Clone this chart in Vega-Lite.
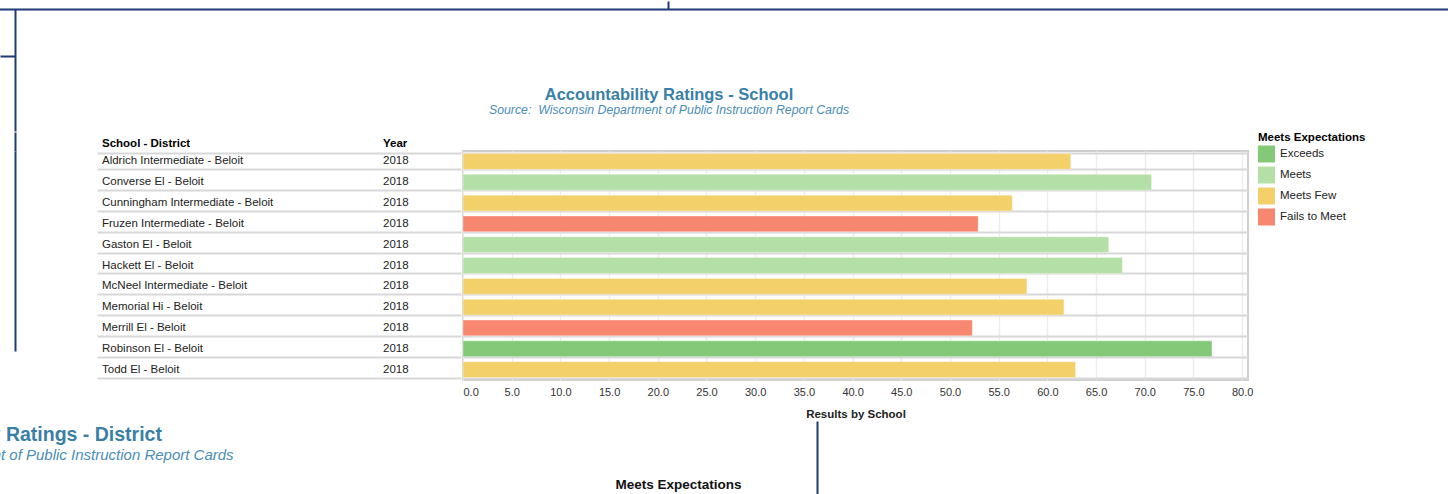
{
  "$schema": "https://vega.github.io/schema/vega-lite/v6.json",
  "background": "white",
  "padding": {"left": -206, "top": 0, "right": 10, "bottom": 0},
  "spacing": 0,
  "vconcat": [
    {
      "width": 1460,
      "height": 122,
      "view": {"stroke": null},
      "title": {
        "text": "Accountability Ratings - School",
        "subtitle": "Source:\u00a0 Wisconsin Department of Public Instruction Report Cards",
        "anchor": "middle",
        "dx": -58,
        "offset": -116,
        "font": "Liberation Sans",
        "fontSize": 16.5,
        "fontWeight": "bold",
        "color": "#3a7fa6",
        "subtitleFont": "Liberation Sans",
        "subtitleFontSize": 12.3,
        "subtitleFontStyle": "italic",
        "subtitleColor": "#4a8db6",
        "subtitlePadding": 0
      },
      "data": {"values": []},
      "mark": {"type": "point", "opacity": 0},
      "encoding": {
        "x": {"field": "fx", "type": "quantitative", "scale": {"domain": [0, 1460], "nice": false, "zero": false},
          "axis": {"orient": "top", "title": null, "labels": false, "grid": false, "domain": true, "domainColor": "#1f3a75", "domainWidth": 2,
            "values": [671], "ticks": true, "tickSize": 8, "tickColor": "#1f3a75", "tickWidth": 2}},
        "y": {"field": "fy", "type": "quantitative", "scale": {"domain": [0, 122], "nice": false, "zero": false},
          "axis": {"orient": "left", "offset": -18, "title": null, "labels": false, "grid": false, "domain": true, "domainColor": "#1f3a75", "domainWidth": 2,
            "values": [75], "ticks": true, "tickSize": 15, "tickColor": "#1f3a75", "tickWidth": 2}}
      }
    },
    {
      "data": {
        "values": [
          {"School": "Aldrich Intermediate - Beloit", "Year": "2018", "Score": 62.4, "Rating": "Meets Few"},
          {"School": "Converse El - Beloit", "Year": "2018", "Score": 70.7, "Rating": "Meets"},
          {"School": "Cunningham Intermediate - Beloit", "Year": "2018", "Score": 56.4, "Rating": "Meets Few"},
          {"School": "Fruzen Intermediate - Beloit", "Year": "2018", "Score": 52.9, "Rating": "Fails to Meet"},
          {"School": "Gaston El - Beloit", "Year": "2018", "Score": 66.3, "Rating": "Meets"},
          {"School": "Hackett El - Beloit", "Year": "2018", "Score": 67.7, "Rating": "Meets"},
          {"School": "McNeel Intermediate - Beloit", "Year": "2018", "Score": 57.9, "Rating": "Meets Few"},
          {"School": "Memorial Hi - Beloit", "Year": "2018", "Score": 61.7, "Rating": "Meets Few"},
          {"School": "Merrill El - Beloit", "Year": "2018", "Score": 52.3, "Rating": "Fails to Meet"},
          {"School": "Robinson El - Beloit", "Year": "2018", "Score": 76.9, "Rating": "Exceeds"},
          {"School": "Todd El - Beloit", "Year": "2018", "Score": 62.9, "Rating": "Meets Few"}
        ]
      },
      "spacing": 0,
      "hconcat": [
        {
          "width": 100,
          "height": 200,
          "view": {"stroke": null},
          "data": {"values": []},
          "mark": {"type": "point", "opacity": 0},
          "encoding": {
            "x": {"field": "fx", "type": "quantitative", "scale": {"domain": [0, 100], "nice": false, "zero": false},
              "axis": {"orient": "top", "title": null, "labels": false, "grid": false, "domain": false,
                "values": [18], "ticks": true, "tickSize": 19, "tickColor": "#1f3a75", "tickWidth": 2}},
            "y": {"field": "fy", "type": "quantitative", "scale": {"domain": [0, 1], "nice": false},
              "axis": {"orient": "left", "offset": -18, "title": null, "labels": false, "grid": false, "ticks": false, "domain": true, "domainColor": "#1f3a75", "domainWidth": 2}}
          }
        },
        {
          "width": 283,
          "height": 229,
          "view": {"stroke": null},
          "title": {"text": "School - District", "anchor": "start", "fontSize": 11.5, "fontWeight": "bold", "color": "#000000", "font": "Liberation Sans", "dx": 5, "offset": 2},
          "mark": {"type": "text", "align": "left", "baseline": "middle", "font": "Liberation Sans", "fontSize": 11.5, "color": "#222222"},
          "encoding": {
            "y": {"field": "School", "type": "nominal", "sort": null, "scale": {"paddingInner": 0.24, "paddingOuter": 0.12},
              "axis": {"labels": false, "ticks": false, "domain": false, "title": null, "grid": true, "tickBand": "extent", "gridColor": "#d8d8d8", "gridWidth": 2}},
            "x": {"value": 5},
            "text": {"field": "School"}
          }
        },
        {
          "width": 81,
          "height": 229,
          "view": {"stroke": null},
          "title": {"text": "Year", "anchor": "start", "fontSize": 11.5, "fontWeight": "bold", "color": "#000000", "font": "Liberation Sans", "dx": 3, "offset": 2},
          "mark": {"type": "text", "align": "left", "baseline": "middle", "font": "Liberation Sans", "fontSize": 11.5, "color": "#222222"},
          "encoding": {
            "y": {"field": "School", "type": "nominal", "sort": null, "scale": {"paddingInner": 0.24, "paddingOuter": 0.12},
              "axis": {"labels": false, "ticks": false, "domain": false, "title": null, "grid": true, "tickBand": "extent", "gridColor": "#d8d8d8", "gridWidth": 2}},
            "x": {"value": 3},
            "text": {"field": "Year"}
          }
        },
        {
          "width": 785,
          "height": 229,
          "view": {"stroke": "#cfcfcf", "strokeWidth": 2},
          "mark": {"type": "bar", "stroke": "#ffffff", "strokeOpacity": 0.35, "strokeWidth": 1},
          "encoding": {
            "y": {"field": "School", "type": "nominal", "sort": null, "scale": {"paddingInner": 0.24, "paddingOuter": 0.12},
              "axis": {"labels": false, "ticks": false, "domain": false, "title": null, "grid": true, "tickBand": "extent", "gridColor": "#d8d8d8", "gridWidth": 2}},
            "x": {"field": "Score", "type": "quantitative", "scale": {"domain": [0, 80.6], "nice": false},
              "axis": {"values": [0, 5, 10, 15, 20, 25, 30, 35, 40, 45, 50, 55, 60, 65, 70, 75, 80], "format": ".1f", "title": "Results by School",
                "titleFont": "Liberation Sans", "titleFontSize": 11.5, "titleFontWeight": "bold", "titleColor": "#222222", "titlePadding": 11,
                "labelFont": "Liberation Sans", "labelFontSize": 11, "labelColor": "#333333", "labelPadding": 6, "ticks": false, "domain": false,
                "grid": true, "gridColor": "#ececec", "gridWidth": 1.5}},
            "color": {"field": "Rating", "type": "nominal",
              "scale": {"domain": ["Exceeds", "Meets", "Meets Few", "Fails to Meet"], "range": ["#83c978", "#b4e0a7", "#f3d06a", "#f8876f"]},
              "legend": {"title": "Meets Expectations", "orient": "none", "legendX": 1261, "legendY": 123, "symbolType": "square", "symbolSize": 289, "symbolStrokeWidth": 0,
                "titleFont": "Liberation Sans", "titleFontSize": 11.5, "titleFontWeight": "bold", "titleColor": "#000000",
                "labelFont": "Liberation Sans", "labelFontSize": 11.5, "labelColor": "#222222", "rowPadding": 4, "titlePadding": 2, "labelOffset": 5}}
          }
        }
      ]
    },
    {
      "width": 820,
      "height": 100,
      "view": {"fill": "#ffffff", "stroke": null},
      "title": {
        "text": "Accountability Ratings - District",
        "subtitle": "Source:\u00a0 Wisconsin Department of Public Instruction Report Cards",
        "anchor": "middle",
        "dx": -393,
        "offset": -43,
        "font": "Liberation Sans",
        "fontSize": 19.5,
        "fontWeight": "bold",
        "color": "#3a7fa6",
        "subtitleFont": "Liberation Sans",
        "subtitleFontSize": 15,
        "subtitleFontStyle": "italic",
        "subtitleColor": "#4a8db6",
        "subtitlePadding": 3
      },
      "data": {"values": []},
      "mark": {"type": "point", "opacity": 0},
      "encoding": {
        "x": {"field": "fx", "type": "quantitative", "scale": {"domain": [0, 1], "nice": false},
          "axis": {"orient": "top", "title": "Meets Expectations", "labels": false, "ticks": false, "domain": false, "grid": false,
            "titleX": 681, "titleY": 63, "titleBaseline": "middle", "titleFont": "Liberation Sans", "titleFontSize": 13.5, "titleFontWeight": "bold", "titleColor": "#111111"}},
        "y": {"field": "fy", "type": "quantitative", "scale": {"domain": [0, 1], "nice": false},
          "axis": {"orient": "right", "title": null, "labels": false, "ticks": false, "grid": false, "domain": true, "domainColor": "#1f3a75", "domainWidth": 2}}
      }
    }
  ]
}
